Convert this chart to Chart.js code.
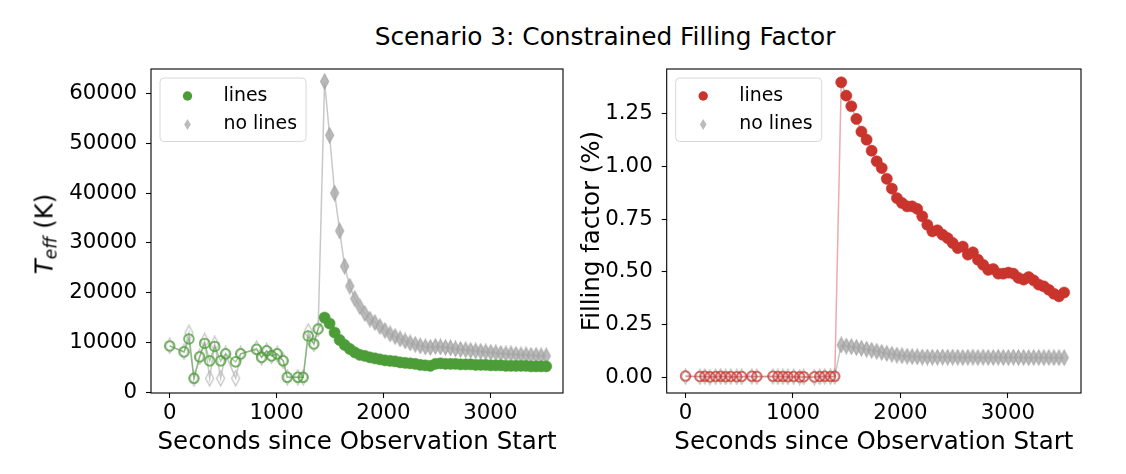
<!DOCTYPE html>
<html>
<head>
<meta charset="utf-8">
<script src="https://cdn.jsdelivr.net/npm/chart.js@4.4.1/dist/chart.umd.min.js"></script>
<style>
  body { margin: 0; background: #fff; font-family: 'DejaVu Sans', sans-serif; }
  #wrap { position: relative; width: 1126px; height: 474px; overflow: hidden; }
  #titulo { position: absolute; left: 305px; width: 600px; top: 22px; line-height: 30px;
            text-align: center; font-size: 24.8px; color: #000; white-space: nowrap; }
  canvas { position: absolute; top: 0; }
  #c1 { left: 0; }
  #c2 { left: 580px; }
  #ylab1 { position: absolute; left: 45px; top: 234px; font-size: 24.5px; color: #000;
           white-space: nowrap; transform: translate(-50%, -50%) rotate(-90deg); }
  #ylab1 sub { font-size: 17px; vertical-align: -4px; }
</style>
</head>
<body>
<div id="wrap">
  <div id="titulo">Scenario 3: Constrained Filling Factor</div>
  <canvas id="c1" width="580" height="474" style="width:580px;height:474px"></canvas>
  <canvas id="c2" width="546" height="474" style="width:546px;height:474px"></canvas>
  <div id="ylab1"><i>T</i><sub><i>eff</i></sub> (K)</div>
</div>
<script>
// tiempos (s) de cada espectro
const times = [0, 134, 180, 227, 280, 327, 374, 421, 477, 523, 617, 664, 813, 860, 907, 953, 1006, 1062, 1100, 1199, 1249, 1296, 1349, 1389,
  1449, 1496, 1543, 1590, 1637, 1685, 1732, 1779, 1826, 1873, 1920, 1967, 2014, 2062, 2109, 2156, 2203, 2250, 2297, 2344, 2392, 2439, 2486,
  2533, 2580, 2627, 2674, 2721, 2769, 2816, 2863, 2910, 2957, 3004, 3051, 3098, 3146, 3193, 3240, 3287, 3334, 3381, 3428, 3475, 3523];

// Teff (K)
const teffLines = [9300, 8100, 10700, 2800, 7100, 9800, 6300, 9200, 6300, 7700, 6100, 7700, 8600, 7000, 8300, 7300, 7700, 6300, 3000, 3000, 3000, 11300, 9700, 12700,
  15000, 13800, 12000, 10500, 9500, 8700, 8000, 7500, 7300, 7000, 6800, 6600, 6400, 6300, 6200, 6000, 5900, 5800, 5700, 5500, 5400, 5300, 5700,
  5800, 5700, 5700, 5700, 5600, 5600, 5600, 5500, 5500, 5500, 5400, 5400, 5400, 5300, 5300, 5300, 5300, 5300, 5200, 5200, 5200, 5200];
const teffNoLines = [9300, 8100, 11900, 2800, 7100, 10300, 2800, 9700, 2800, 7700, 2800, 7700, 8800, 7000, 8300, 7300, 7700, 6300, 3000, 3000, 3000, 12200, 9700, 12700,
  62400, 51600, 40000, 32400, 25300, 21300, 18800, 17200, 15800, 14700, 14000, 13200, 12400, 11700, 11200, 10700, 10300, 9900, 9600, 9300, 9100, 9000, 9200,
  9100, 9000, 8900, 8700, 8600, 8500, 8400, 8300, 8200, 8100, 8000, 7900, 7800, 7700, 7700, 7600, 7500, 7500, 7400, 7400, 7300, 7300];

// Filling factor (%)
const ffLines = [0.008, 0.006, 0.007, 0.004, 0.006, 0.007, 0.005, 0.006, 0.005, 0.006, 0.007, 0.006, 0.007, 0.006, 0.006, 0.005, 0.006, 0.004, 0.005, 0.004, 0.006, 0.007, 0.006, 0.007,
  1.396, 1.333, 1.283, 1.223, 1.163, 1.125, 1.073, 1.023, 0.991, 0.940, 0.894, 0.849, 0.826, 0.810, 0.810, 0.798, 0.763, 0.723, 0.692, 0.697, 0.676, 0.660, 0.637,
  0.613, 0.620, 0.582, 0.593, 0.558, 0.534, 0.510, 0.514, 0.492, 0.492, 0.497, 0.492, 0.472, 0.464, 0.476, 0.460, 0.440, 0.432, 0.416, 0.397, 0.385, 0.403];
const ffNoLines = [0.006, 0.005, 0.006, 0.003, 0.005, 0.006, 0.004, 0.005, 0.004, 0.005, 0.006, 0.005, 0.006, 0.005, 0.005, 0.004, 0.005, 0.003, 0.004, 0.003, 0.005, 0.006, 0.005, 0.006,
  0.155, 0.150, 0.147, 0.143, 0.139, 0.135, 0.130, 0.125, 0.120, 0.115, 0.111, 0.107, 0.104, 0.102, 0.100, 0.099, 0.098, 0.098, 0.097, 0.097, 0.098, 0.097, 0.097,
  0.097, 0.096, 0.097, 0.097, 0.096, 0.097, 0.096, 0.096, 0.097, 0.096, 0.096, 0.097, 0.096, 0.096, 0.095, 0.096, 0.096, 0.095, 0.096, 0.095, 0.095, 0.095];

const xTicks = [0, 1000, 2000, 3000];
const teffTicks = [0, 10000, 20000, 30000, 40000, 50000, 60000];
const ffTicks = [0, 0.25, 0.5, 0.75, 1.0, 1.25];
const flareStart = 1420; // antes de esto, marcadores huecos

Chart.defaults.font.family = "'DejaVu Sans', sans-serif";
Chart.defaults.color = '#000';

function diamante(relleno) {
  const c = document.createElement('canvas');
  c.width = 11; c.height = 17;
  const g = c.getContext('2d');
  g.beginPath();
  g.moveTo(5.5, 1); g.lineTo(9.5, 8.5); g.lineTo(5.5, 16); g.lineTo(1.5, 8.5); g.closePath();
  if (relleno) {
    g.fillStyle = 'rgba(170,170,170,0.8)';
    g.fill();
    g.strokeStyle = 'rgba(160,160,160,0.8)';
  } else {
    g.strokeStyle = 'rgba(185,185,185,0.9)';
  }
  g.lineWidth = 1.2;
  g.stroke();
  return c;
}
const diamLleno = diamante(true);
const diamHueco = diamante(false);

function hueco(ctx) {
  return ctx.raw && ctx.raw.x < flareStart;
}

// marco y leyenda dentro del area
const marcoLeyenda = {
  id: 'marcoLeyenda',
  afterDatasetsDraw(chart, args, opts) {
    const a = chart.chartArea;
    const g = chart.ctx;
    g.save();
    g.strokeStyle = '#000';
    g.lineWidth = 1.1;
    g.strokeRect(a.left, a.top, a.right - a.left, a.bottom - a.top);

    const bx = a.left + 9, by = a.top + 9, bw = 146, bh = 63.5, r = 4;
    g.beginPath();
    g.moveTo(bx + r, by);
    g.arcTo(bx + bw, by, bx + bw, by + bh, r);
    g.arcTo(bx + bw, by + bh, bx, by + bh, r);
    g.arcTo(bx, by + bh, bx, by, r);
    g.arcTo(bx, by, bx + bw, by, r);
    g.closePath();
    g.fillStyle = 'rgba(255,255,255,0.8)';
    g.fill();
    g.strokeStyle = '#d8d8d8';
    g.lineWidth = 1;
    g.stroke();

    const mx = a.left + 36.5, y1 = a.top + 27, y2 = a.top + 55.5;
    g.beginPath();
    g.arc(mx, y1, 4.7, 0, Math.PI * 2);
    g.fillStyle = opts.color;
    g.fill();
    g.beginPath();
    g.moveTo(mx, y2 - 5.5); g.lineTo(mx + 3.3, y2); g.lineTo(mx, y2 + 5.5); g.lineTo(mx - 3.3, y2); g.closePath();
    g.fillStyle = 'rgba(175,175,175,0.85)';
    g.fill();

    g.fillStyle = '#000';
    g.font = "18.9px 'DejaVu Sans', sans-serif";
    g.textBaseline = 'middle';
    g.textAlign = 'left';
    g.fillText('lines', a.left + 72.5, y1);
    g.fillText('no lines', a.left + 72.5, y2);
    g.restore();
  }
};

function dibujarGrafico(id, cfg) {
  return new Chart(document.getElementById(id), {
    type: 'scatter',
    data: {
      datasets: [
        {
          label: 'lines',
          data: times.map((t, i) => ({ x: t, y: cfg.lines[i] })),
          showLine: true,
          borderColor: cfg.lineColor,
          borderWidth: 1.5,
          pointStyle: 'circle',
          pointRadius: ctx => hueco(ctx) ? 4.8 : 5.6,
          pointBackgroundColor: ctx => hueco(ctx) ? 'rgba(0,0,0,0)' : cfg.color,
          pointBorderColor: ctx => hueco(ctx) ? cfg.openColor : cfg.color,
          pointBorderWidth: ctx => hueco(ctx) ? 2 : 0.5
        },
        {
          label: 'no lines',
          data: times.map((t, i) => ({ x: t, y: cfg.noLines[i] })),
          showLine: true,
          borderColor: 'rgba(190,190,190,0.85)',
          borderWidth: 1.5,
          pointStyle: ctx => hueco(ctx) ? diamHueco : diamLleno,
          pointRadius: 7
        }
      ]
    },
    options: {
      responsive: false,
      animation: false,
      layout: { padding: { left: 0, right: cfg.padRight, top: 69, bottom: 0 } },
      plugins: {
        legend: { display: false },
        tooltip: { enabled: false },
        marcoLeyenda: { color: cfg.color }
      },
      scales: {
        x: {
          type: 'linear',
          min: -175,
          max: 3680,
          afterBuildTicks: s => { s.ticks = xTicks.map(v => ({ value: v })); },
          afterFit: s => { s.height = 81; },
          border: { display: false },
          grid: { drawOnChartArea: false, tickLength: 5, tickColor: '#000', tickWidth: 1.1 },
          ticks: { autoSkip: false, maxRotation: 0, padding: 3, font: { size: 21.3 }, color: '#000',
                   callback: v => String(v) },
          title: { display: true, text: 'Seconds since Observation Start', color: '#000',
                   font: { size: 24.5 }, padding: { top: 17, bottom: 17 } }
        },
        y: {
          type: 'linear',
          min: cfg.yMin,
          max: cfg.yMax,
          afterBuildTicks: s => { s.ticks = cfg.yTicks.map(v => ({ value: v })); },
          afterFit: s => { s.width = cfg.yWidth; },
          border: { display: false },
          grid: { drawOnChartArea: false, tickLength: 5, tickColor: '#000', tickWidth: 1.1 },
          ticks: { autoSkip: false, padding: 9, font: { size: 21.3 }, color: '#000', callback: cfg.fmt },
          title: cfg.yTitle
        }
      }
    },
    plugins: [marcoLeyenda]
  });
}

dibujarGrafico('c1', {
  lines: teffLines, noLines: teffNoLines,
  color: 'rgb(76,157,56)', openColor: 'rgba(76,157,56,0.75)', lineColor: 'rgba(76,157,56,0.5)',
  yMin: -150, yMax: 64900, yTicks: teffTicks, yWidth: 151, padRight: 17,
  fmt: v => String(v),
  yTitle: { display: false }
});

dibujarGrafico('c2', {
  lines: ffLines, noLines: ffNoLines,
  color: 'rgb(201,52,44)', openColor: 'rgba(201,52,44,0.7)', lineColor: 'rgba(214,90,90,0.5)',
  yMin: -0.072, yMax: 1.459, yTicks: ffTicks, yWidth: 86.7, padRight: 45,
  fmt: v => v.toFixed(2),
  yTitle: { display: true, text: 'Filling factor (%)', color: '#000', font: { size: 24.5, lineHeight: 1 }, padding: 0 }
});
</script>
</body>
</html>
